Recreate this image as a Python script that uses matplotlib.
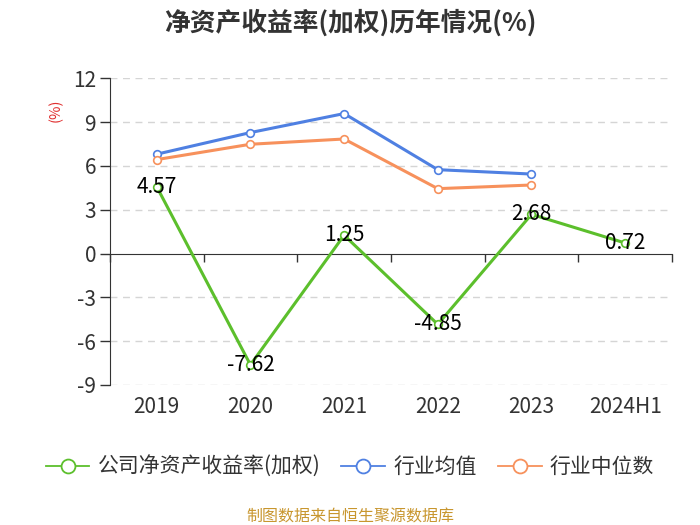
import matplotlib.pyplot as plt
from matplotlib.lines import Line2D
import numpy as np

plt.rcParams['font.family'] = ['Noto Sans CJK SC', 'DejaVu Sans']

# datos
anios = ["2019", "2020", "2021", "2022", "2023", "2024H1"]
roe_empresa = [4.57, -7.62, 1.25, -4.85, 2.68, 0.72]
media_industria = [6.80, 8.28, 9.58, 5.74, 5.44]
mediana_industria = [6.43, 7.48, 7.84, 4.44, 4.69]
y_ticks = [-9, -6, -3, 0, 3, 6, 9, 12]

VERDE = "#5cbf2c"
AZUL = "#4f80e2"
NARANJA = "#f7915c"
GRIS = "#333333"

fig = plt.figure(figsize=(7, 5.25), dpi=100)
ax = fig.add_axes([0.157, 0.2667, 0.803, 0.5843])

x = np.arange(len(anios))
xm = np.arange(len(media_industria))

estilo = dict(marker="o", markersize=5.5, markerfacecolor="white",
              markeredgewidth=1.2, linewidth=2.2, zorder=3)
ax.plot(x, roe_empresa, color=VERDE, **estilo)
ax.plot(xm, media_industria, color=AZUL, **estilo)
ax.plot(xm, mediana_industria, color=NARANJA, **estilo)

for xi, v in zip(x, roe_empresa):
    ax.text(xi, v, f"{v:.2f}", ha="center", va="center", fontsize=15,
            color="black", zorder=4)

ax.set_xlim(-0.5, len(anios) - 0.5)
ax.set_ylim(-9, 12)
ax.set_yticks(y_ticks)
ax.set_yticklabels([str(t) for t in y_ticks], fontsize=15, color=GRIS)
ax.tick_params(axis="y", length=7, width=1, color=GRIS, pad=3)

ax.set_xticks(x)
ax.set_xticklabels(anios, fontsize=15, color=GRIS)
ax.tick_params(axis="x", length=0, pad=8)

for t in y_ticks:
    if t != 0:
        ax.axhline(t, color="#d5d5d5", linestyle=(0, (5, 4)), linewidth=1, zorder=1)

for s in ["top", "right", "bottom"]:
    ax.spines[s].set_visible(False)
ax.spines["left"].set_color(GRIS)

# eje x en cero con marcas en los limites de categoria
eje0 = ax.secondary_xaxis(9 / 21)
eje0.set_xticks(np.arange(len(anios) + 1) - 0.5)
eje0.set_xticklabels([])
eje0.tick_params(length=6, width=1, color=GRIS, direction="out")
eje0.spines["bottom"].set_color(GRIS)

ax.text(-0.096, 0.896, "(%)", transform=ax.transAxes, rotation=90,
        color="#e03030", fontsize=10.5, ha="center", va="center")

fig.text(0.5, 0.957, "净资产收益率(加权)历年情况(%)", ha="center", va="center",
         fontsize=18.5, fontweight="bold", color="#333333")

# manejadores de leyenda: circulo abierto grande y linea fina
manejadores = [Line2D([], [], color=c, marker="o", markersize=10,
                      markerfacecolor="white", markeredgewidth=1.3, linewidth=1.3)
               for c in (VERDE, AZUL, NARANJA)]
fig.legend(manejadores, ["公司净资产收益率(加权)", "行业均值", "行业中位数"],
           loc="center", bbox_to_anchor=(0.5, 0.11), ncol=3, frameon=False,
           fontsize=15, handlelength=2.1, columnspacing=1.0, handletextpad=0.4,
           labelcolor="#333333")

fig.text(0.5, 0.015, "制图数据来自恒生聚源数据库", ha="center", va="center",
         fontsize=11.5, color="#c8962e")

fig.savefig("out.png", dpi=100)
